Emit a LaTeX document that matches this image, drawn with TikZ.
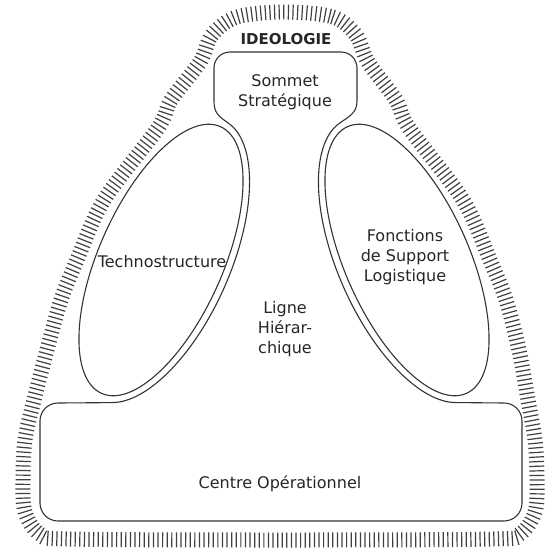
\documentclass[tikz,border=0pt]{standalone}
\usepackage{fontspec}
\setmainfont{DejaVu Sans}
\usetikzlibrary{decorations.pathreplacing}

\begin{document}
\begin{tikzpicture}[
  x=1pt, y=1pt,
  every node/.style={font=\fontsize{16}{20}\selectfont, text=black!85, align=center},
  outline/.style={draw=black!80, line width=1.1pt},
  hatch/.style={draw=black!75, line width=1.2pt, decorate, decoration={ticks, segment length=4.6pt, amplitude=7.5pt}}
]
\useasboundingbox (0,0) rectangle (555,-557);

\draw[hatch] plot[smooth cycle, tension=0.55] coordinates {
  (285,-12) (333,-17) (356,-35) (368,-62) (396,-100) (409,-128) (463,-200)
  (490,-260) (506,-300) (519,-350) (528,-400) (535,-440) (537,-480)
  (535,-512) (520,-534) (492,-539) (283,-540) (70,-539) (40,-534)
  (25,-512) (23,-480) (25,-440) (34,-400) (47,-350) (61,-300) (77,-260)
  (104,-200) (158,-128) (171,-100) (200,-62) (212,-35) (237,-17)};

\draw[outline, rotate around={66:(161,-260)}] (161,-260) ellipse[x radius=146, y radius=62];
\draw[outline, rotate around={114:(407,-260)}] (407,-260) ellipse[x radius=146, y radius=62];

\draw[outline]
  (58,-403) -- (112.4,-402.6)
  -- plot[domain=-168.65:-5, samples=70, variable=\t]
     ({161+153*cos(\t)*0.4067-69*sin(\t)*0.9135}, {-260+153*cos(\t)*0.9135+69*sin(\t)*0.4067})
  .. controls (218.5,-116.2) and (214,-113) .. (214,-101)
  -- (214,-68) arc[start angle=180, end angle=90, radius=16]
  -- (341,-52) arc[start angle=90, end angle=0, radius=16]
  -- (357,-101) .. controls (357,-113) and (349.5,-116.2) .. (339.5,-123.2)
  -- plot[domain=-5:-168.65, samples=70, variable=\t]
     ({407-153*cos(\t)*0.4067+69*sin(\t)*0.9135}, {-260+153*cos(\t)*0.9135+69*sin(\t)*0.4067})
  -- (504,-403) arc[start angle=90, end angle=0, radius=18]
  -- (522,-503) arc[start angle=0, end angle=-90, radius=18]
  -- (58,-521) arc[start angle=-90, end angle=-180, radius=18]
  -- (40,-421) arc[start angle=180, end angle=90, radius=18]
  -- cycle;

\node[font=\fontsize{15}{20}\selectfont\bfseries] (ideologie) at (286,-39) {IDEOLOGIE};
\node (sommet) at (285,-92) {Sommet\\Stratégique};
\node (techno) at (162,-262) {Technostructure};
\node (support) at (405,-257) {Fonctions\\de Support\\Logistique};
\node (ligne) at (285,-329) {Ligne\\Hiérar-\\chique};
\node (centre) at (280,-484) {Centre Opérationnel};
\end{tikzpicture}
\end{document}
